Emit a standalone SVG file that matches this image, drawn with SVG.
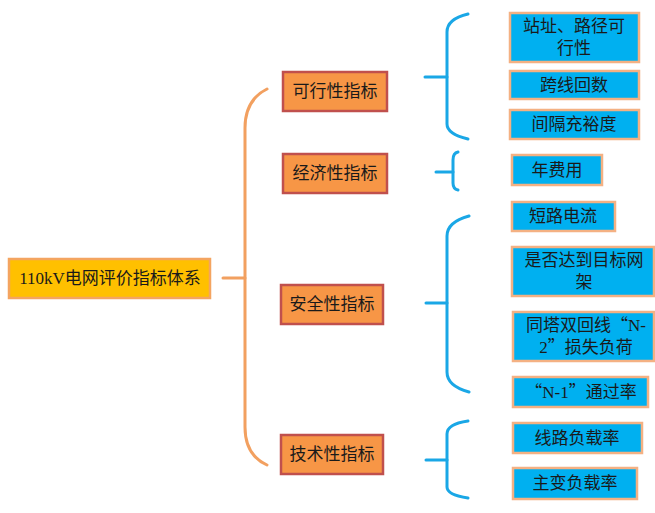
<svg xmlns="http://www.w3.org/2000/svg" width="655" height="513" viewBox="0 0 655 513">
<style>
text{font-family:"Liberation Serif","Noto Sans CJK SC",serif;font-size:17px;fill:#1a1a1a;text-anchor:middle}
.q{font-family:"Noto Sans CJK SC",sans-serif}
.root{fill:#FFC000;stroke:#F4A460;stroke-width:2.5}
.cat{fill:#F79646;stroke:#C0504D;stroke-width:2.5}
.leaf{fill:#00B0F0;stroke:#F4B183;stroke-width:2.5}
.ob{fill:none;stroke:#F2A060;stroke-width:3;stroke-linecap:round}
.bb{fill:none;stroke:#1AA7E6;stroke-width:3;stroke-linecap:round}
</style>
<rect width="655" height="513" fill="#ffffff"/>
<g id="connectors">
<path class="ob" d="M223,278 H245"/>
<path class="ob" d="M267,89 Q245,100 245,128 V427 Q245,455 267,465"/>
<path class="bb" d="M425,77 H447"/>
<path class="bb" d="M468,14 Q447,19 447,32 V124 Q447,134 468,139"/>
<path class="bb" d="M436,172 H453"/>
<path class="bb" d="M458,152 Q453,153 453,160 V183 Q453,189 458,190"/>
<path class="bb" d="M426,303 H447"/>
<path class="bb" d="M469,216 Q447,222 447,236 V372 Q447,386 469,392"/>
<path class="bb" d="M426,460 H447"/>
<path class="bb" d="M468,421 Q447,424 447,434 V487 Q447,495 468,498"/>
</g>
<g id="root"><rect class="root" x="9" y="259" width="201" height="39"/><text x="110" y="284">110kV电网评价指标体系</text></g>
<g id="cat1"><rect class="cat" x="283" y="72" width="104" height="39"/><text x="335" y="97">可行性指标</text></g>
<g id="cat2"><rect class="cat" x="283" y="154" width="104" height="39"/><text x="335" y="179">经济性指标</text></g>
<g id="cat3"><rect class="cat" x="281" y="285" width="102" height="39"/><text x="332" y="310">安全性指标</text></g>
<g id="cat4"><rect class="cat" x="281" y="435" width="102" height="39"/><text x="332" y="460">技术性指标</text></g>
<g id="leaf1"><rect class="leaf" x="510" y="13" width="129" height="49"/><text x="574" y="32">站址、路径可</text><text x="574" y="54">行性</text></g>
<g id="leaf2"><rect class="leaf" x="510" y="71" width="129" height="28"/><text x="574" y="91">跨线回数</text></g>
<g id="leaf3"><rect class="leaf" x="510" y="110" width="129" height="29"/><text x="574" y="130">间隔充裕度</text></g>
<g id="leaf4"><rect class="leaf" x="512" y="155" width="90" height="30"/><text x="557" y="176">年费用</text></g>
<g id="leaf5"><rect class="leaf" x="512" y="202" width="103" height="29"/><text x="563" y="222">短路电流</text></g>
<g id="leaf6"><rect class="leaf" x="512" y="247" width="142" height="49"/><text x="584" y="266">是否达到目标网</text><text x="584" y="288">架</text></g>
<g id="leaf7"><rect class="leaf" x="513" y="312" width="141" height="49"/><text x="586" y="331">同塔双回线<tspan class="q">“</tspan>N-</text><text x="586" y="353">2<tspan class="q">”</tspan>损失负荷</text></g>
<g id="leaf8"><rect class="leaf" x="513" y="377" width="135" height="30"/><text x="581" y="398"><tspan class="q">“</tspan>N-1<tspan class="q">”</tspan>通过率</text></g>
<g id="leaf9"><rect class="leaf" x="513" y="423" width="129" height="30"/><text x="577" y="444">线路负载率</text></g>
<g id="leaf10"><rect class="leaf" x="513" y="468" width="124" height="31"/><text x="575" y="489">主变负载率</text></g>
</svg>
